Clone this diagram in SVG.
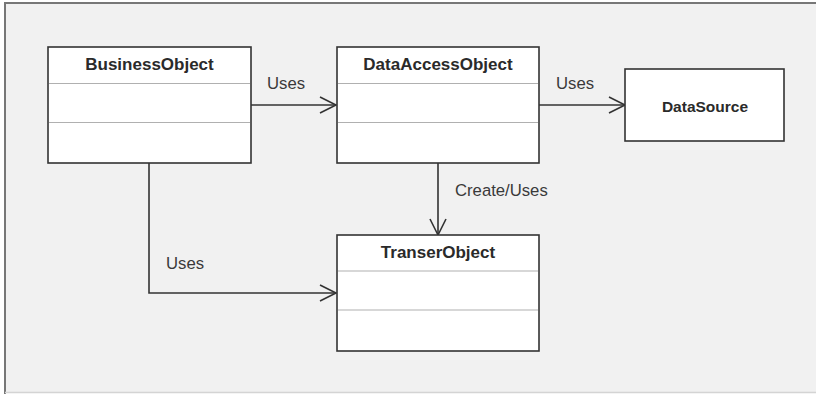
<svg xmlns="http://www.w3.org/2000/svg" width="816" height="394" viewBox="0 0 816 394">
<style>
.box{fill:#fff;stroke:#333;stroke-width:1.6}
.div{stroke:#b0b0b0;stroke-width:1.2}
.t{font-family:"Liberation Sans",Arial,sans-serif;fill:#2a2a2a;text-anchor:middle}
.title{font-size:17px;font-weight:bold}
.lbl{font-family:"Liberation Sans",Arial,sans-serif;fill:#3a3a3a;font-size:16.7px}
.edge{fill:none;stroke:#333;stroke-width:1.6}
.ah{fill:none;stroke:#333;stroke-width:1.6}
</style>
<rect x="0" y="0" width="816" height="394" fill="#fff"/>
<rect x="5" y="3" width="811" height="389" fill="#f1f1f1"/>
<line x1="5" y1="3" x2="816" y2="3" stroke="#777" stroke-width="2"/>
<line x1="5" y1="2" x2="5" y2="394" stroke="#777" stroke-width="2"/>
<line x1="5" y1="392.5" x2="816" y2="392.5" stroke="#d4d4d4" stroke-width="1.5"/>

<g id="connectors">
  <g id="e-bo-dao">
    <line class="edge" x1="251" y1="105" x2="336" y2="105"/>
    <polyline class="ah" points="320,97 336,105 320,113"/>
    <text class="lbl" x="267" y="89">Uses</text>
  </g>
  <g id="e-dao-ds">
    <line class="edge" x1="539" y1="105" x2="625" y2="105"/>
    <polyline class="ah" points="609,97 625,105 609,113"/>
    <text class="lbl" x="556" y="89">Uses</text>
  </g>
  <g id="e-dao-to">
    <line class="edge" x1="438" y1="163" x2="438" y2="235"/>
    <polyline class="ah" points="430,219 438,235 446,219"/>
    <text class="lbl" x="455" y="196">Create/Uses</text>
  </g>
  <g id="e-bo-to">
    <polyline class="edge" points="149,163 149,293 336,293"/>
    <polyline class="ah" points="320,285 336,293 320,301"/>
    <text class="lbl" x="166" y="269">Uses</text>
  </g>
</g>

<g id="BusinessObject">
  <rect class="box" x="48" y="47" width="203" height="116"/>
  <line class="div" x1="49" y1="83.5" x2="250" y2="83.5"/>
  <line class="div" x1="49" y1="122.5" x2="250" y2="122.5"/>
  <text class="t title" x="149.5" y="70">BusinessObject</text>
</g>

<g id="DataAccessObject">
  <rect class="box" x="337" y="47" width="202" height="116"/>
  <line class="div" x1="338" y1="83.5" x2="538" y2="83.5"/>
  <line class="div" x1="338" y1="122.5" x2="538" y2="122.5"/>
  <text class="t title" x="438" y="70">DataAccessObject</text>
</g>

<g id="DataSource">
  <rect class="box" x="625" y="69" width="159" height="72"/>
  <text class="t" x="705" y="112" style="font-size:15.5px;font-weight:bold">DataSource</text>
</g>

<g id="TranserObject">
  <rect class="box" x="337" y="235" width="202" height="116"/>
  <line class="div" x1="338" y1="271" x2="538" y2="271"/>
  <line class="div" x1="338" y1="310" x2="538" y2="310"/>
  <text class="t title" x="438" y="258">TranserObject</text>
</g>
</svg>
